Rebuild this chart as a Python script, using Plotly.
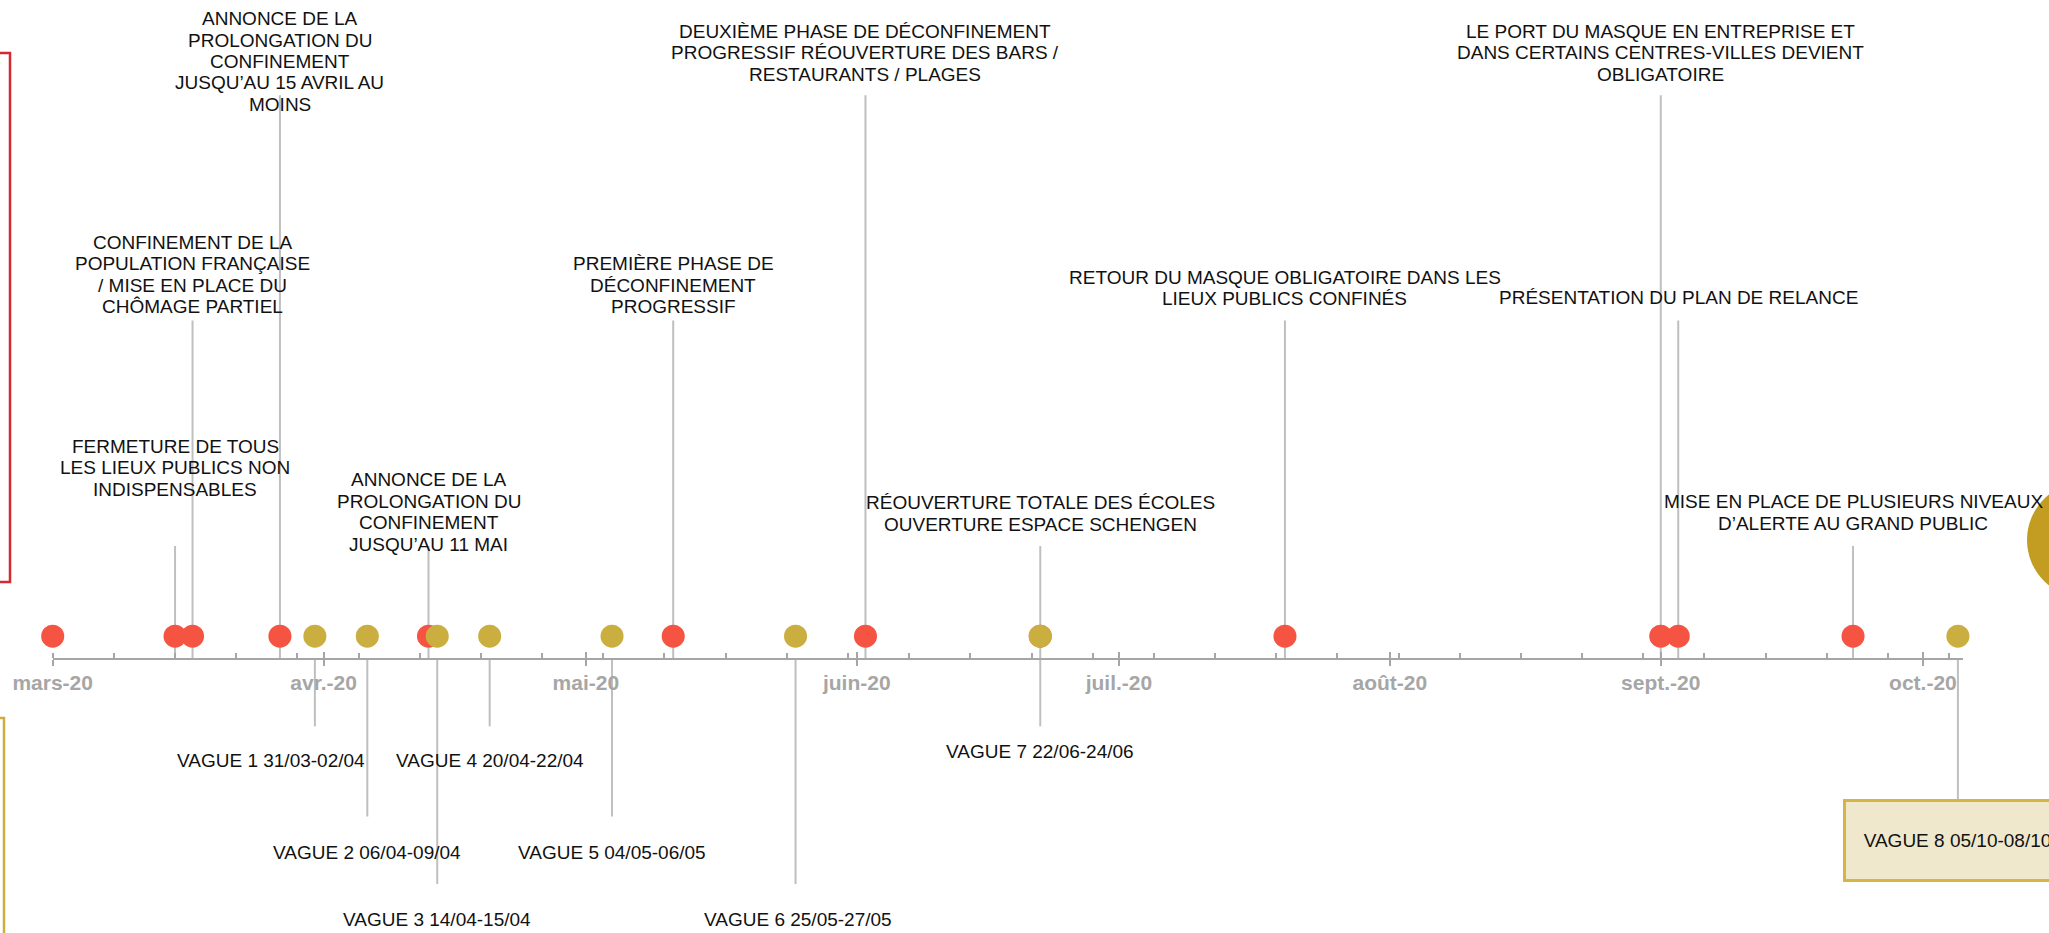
import plotly.graph_objects as go
import pandas as pd

# ---------------- DATA ----------------
event_dates = ["2020-03-01", "2020-03-15", "2020-03-17", "2020-03-27", "2020-04-13",
               "2020-05-11", "2020-06-02", "2020-06-22", "2020-07-20", "2020-09-01",
               "2020-09-03", "2020-09-23"]
event_labels = [
    "",
    "FERMETURE DE TOUS\nLES LIEUX PUBLICS NON\nINDISPENSABLES",
    "CONFINEMENT DE LA\nPOPULATION FRANÇAISE\n/ MISE EN PLACE DU\nCHÔMAGE PARTIEL",
    "ANNONCE DE LA\nPROLONGATION DU\nCONFINEMENT\nJUSQU’AU 15 AVRIL AU\nMOINS",
    "ANNONCE DE LA\nPROLONGATION DU\nCONFINEMENT\nJUSQU’AU 11 MAI",
    "PREMIÈRE PHASE DE\nDÉCONFINEMENT\nPROGRESSIF",
    "DEUXIÈME PHASE DE DÉCONFINEMENT\nPROGRESSIF RÉOUVERTURE DES BARS /\nRESTAURANTS / PLAGES",
    "RÉOUVERTURE TOTALE DES ÉCOLES\nOUVERTURE ESPACE SCHENGEN",
    "RETOUR DU MASQUE OBLIGATOIRE DANS LES\nLIEUX PUBLICS CONFINÉS",
    "LE PORT DU MASQUE EN ENTREPRISE ET\nDANS CERTAINS CENTRES-VILLES DEVIENT\nOBLIGATOIRE",
    "PRÉSENTATION DU PLAN DE RELANCE",
    "MISE EN PLACE DE PLUSIEURS NIVEAUX\nD’ALERTE AU GRAND PUBLIC",
]
event_heights = [0, 1, 3, 5, 1, 3, 5, 1, 3, 5, 3, 1]

wave_dates = ["2020-03-31", "2020-04-06", "2020-04-14", "2020-04-20",
              "2020-05-04", "2020-05-25", "2020-06-22", "2020-10-05"]
wave_labels = ["VAGUE 1 31/03-02/04", "VAGUE 2 06/04-09/04", "VAGUE 3 14/04-15/04",
               "VAGUE 4 20/04-22/04", "VAGUE 5 04/05-06/05", "VAGUE 6 25/05-27/05",
               "VAGUE 7 22/06-24/06", "VAGUE 8 05/10-08/10"]
wave_heights = [-0.6, -1.4, -2.0, -0.6, -1.4, -2.0, -0.6, -1.4]

month_ticks = ["2020-03-01", "2020-04-01", "2020-05-01", "2020-06-01",
               "2020-07-01", "2020-08-01", "2020-09-01", "2020-10-01"]
month_labels = ["mars-20", "avr.-20", "mai-20", "juin-20",
                "juil.-20", "août-20", "sept.-20", "oct.-20"]

dot_level = 0.2

# ---------------- LAYOUT PARAMETERS ----------------
W, H = 2049, 933
AXIS_PX = 658.7          # axis line position from top (px)
UNIT_PX = 112.7          # px per height unit
X_LEFT_PX, X_RIGHT_PX = 52.7, 1963.0
X_START, X_END = "2020-03-01", "2020-10-05 14:00"
FONT = "Liberation Sans, Arial, sans-serif"
RED = "#f55443"
GOLD = "#cbae40"
STEM = "#bfbfbf"
AXIS_GREY = "#a6a6a6"
TXT = "#111111"
LINE_H = 21.4
# label placement (px) : gap between stem end and nearest text line centre
event_gap = [0, 57, 14, -9, 2, 14, 21, 22, 22, 21, 23, 23]
wave_gap = [34, 36, 35, 34, 36, 35, 25, 24.5]
wave_xshift = [-44, 0, 0, 0, 0, 2, 0, 0]

y_top = AXIS_PX / UNIT_PX
y_bot = -(H - AXIS_PX) / UNIT_PX


def stems(dates, heights):
    xs, ys = [], []
    for d, h in zip(dates, heights):
        xs += [d, d, None]
        ys += [0, h, None]
    return xs, ys


fig = go.Figure()

sx, sy = stems(event_dates, event_heights)
fig.add_trace(go.Scatter(x=sx, y=sy, mode="lines", line=dict(color=STEM, width=2),
                         hoverinfo="skip", showlegend=False))
wx, wy = stems(wave_dates, wave_heights)
fig.add_trace(go.Scatter(x=wx, y=wy, mode="lines", line=dict(color=STEM, width=2),
                         hoverinfo="skip", showlegend=False))

fig.add_trace(go.Scatter(x=event_dates, y=[dot_level] * len(event_dates), mode="markers",
                         marker=dict(color=RED, size=23, line=dict(width=0)),
                         cliponaxis=False, showlegend=False))
fig.add_trace(go.Scatter(x=wave_dates, y=[dot_level] * len(wave_dates), mode="markers",
                         marker=dict(color=GOLD, size=23, line=dict(width=0)),
                         cliponaxis=False, showlegend=False))
# dummy trace for the overlay axis (inside half of the major ticks)
fig.add_trace(go.Scatter(x=[], y=[], xaxis="x2", showlegend=False, hoverinfo="skip"))

annotations = []
for d, lab, h, gap in zip(event_dates, event_labels, event_heights, event_gap):
    if not lab:
        continue
    lines = lab.split("\n")
    n = len(lines)
    for i, ln in enumerate(lines):
        annotations.append(dict(
            x=d, y=h, xref="x", yref="y", text=ln, showarrow=False,
            xanchor="center", yanchor="middle",
            yshift=gap + (n - 1 - i) * LINE_H,
            font=dict(family=FONT, size=19, color=TXT)))

for k, (d, lab, h, gap, xs) in enumerate(zip(wave_dates, wave_labels, wave_heights,
                                            wave_gap, wave_xshift)):
    ann = dict(x=d, y=h, xref="x", yref="y", text=lab, showarrow=False,
               xanchor="center", yanchor="middle", yshift=-gap, xshift=xs,
               font=dict(family=FONT, size=19, color=TXT))
    if k == len(wave_dates) - 1:
        ann.update(bgcolor="#efe8cc", bordercolor="#d4b546", borderwidth=3,
                   borderpad=0, width=223, height=77)
    annotations.append(ann)

shapes = [
    dict(type="rect", xref="paper", yref="paper", x0=-0.2, x1=10 / W,
         y0=1 - 582 / H, y1=1 - 53 / H, line=dict(color="#d42a30", width=2.5),
         fillcolor="rgba(0,0,0,0)", layer="below"),
    dict(type="rect", xref="paper", yref="paper", x0=-0.2, x1=4 / W,
         y0=-0.2, y1=1 - 718 / H, line=dict(color="#cfae40", width=2.5),
         fillcolor="rgba(0,0,0,0)", layer="below"),
    dict(type="circle", xref="paper", yref="paper", x0=2027 / W, x1=2143 / W,
         y0=1 - 598 / H, y1=1 - 482 / H, line=dict(width=0), fillcolor="#c29d22"),
]

weekly = [d.strftime("%Y-%m-%d") for d in pd.date_range("2020-03-01", "2020-10-05", freq="7D")]
axis_pos = (H - AXIS_PX) / H
dom = [X_LEFT_PX / W, X_RIGHT_PX / W]

fig.update_layout(
    template="none",
    width=W, height=H,
    autosize=False,
    margin=dict(l=0, r=0, t=0, b=0, pad=0, autoexpand=False),
    paper_bgcolor="white", plot_bgcolor="white",
    showlegend=False,
    xaxis=dict(type="date", domain=dom, range=[X_START, X_END], anchor="free",
               position=axis_pos, showline=True, linecolor=AXIS_GREY, linewidth=2.3,
               showgrid=False, zeroline=False, automargin=False,
               tickmode="array", tickvals=month_ticks, ticktext=month_labels,
               ticks="outside", ticklen=6.5, tickwidth=2.3, tickcolor=AXIS_GREY,
               tickfont=dict(family=FONT, size=21, color=AXIS_GREY, weight="bold"),
               ticklabelstandoff=-2,
               minor=dict(tickmode="array", tickvals=weekly, ticks="inside", ticklen=5,
                          tickwidth=1.8, tickcolor=AXIS_GREY, showgrid=False)),
    xaxis2=dict(type="date", domain=dom, range=[X_START, X_END], anchor="free",
                overlaying="x", position=axis_pos, showline=False, showgrid=False,
                zeroline=False, automargin=False, tickmode="array", tickvals=month_ticks,
                ticks="inside", ticklen=6.5, tickwidth=2.3, tickcolor=AXIS_GREY,
                showticklabels=False),
    yaxis=dict(range=[y_bot, y_top], domain=[0, 1], visible=False, fixedrange=True,
               automargin=False, showgrid=False, zeroline=False),
    annotations=annotations,
    shapes=shapes,
)

fig.write_html("out.html", config={"displayModeBar": False},
               post_script="document.body.style.margin='0';document.body.style.overflow='hidden';")
